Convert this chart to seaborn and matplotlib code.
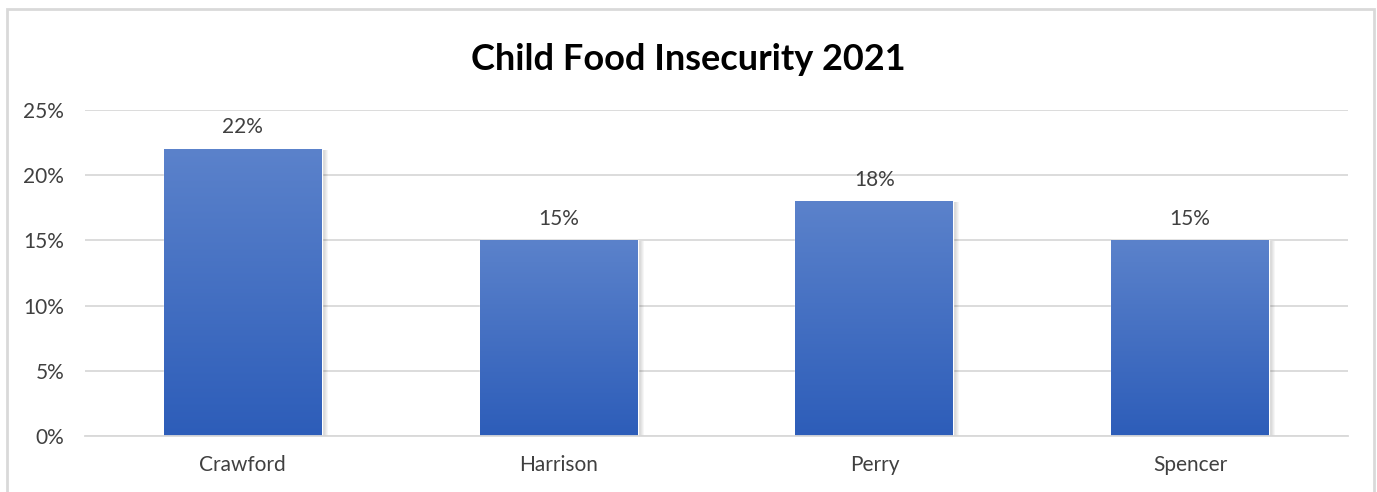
import numpy as np
import matplotlib
matplotlib.use("Agg")
import matplotlib.pyplot as plt
import seaborn as sns
from matplotlib.patches import Rectangle
from matplotlib.colors import LinearSegmentedColormap
from matplotlib.ticker import PercentFormatter

counties = ["Crawford", "Harrison", "Perry", "Spencer"]
insecurity = [22, 15, 18, 15]

sns.set_style("white")
plt.rcParams["font.family"] = ["Lato", "DejaVu Sans"]

fig = plt.figure(figsize=(13.77, 4.92), dpi=100)
ax = fig.add_axes([85 / 1377, 1 - 436 / 492, 1263 / 1377, 326 / 492])

sns.barplot(x=counties, y=insecurity, ax=ax, width=0.5, color="#4472C4")

# gradient fill for each bar
grad = LinearSegmentedColormap.from_list("bar", ["#2D5DB9", "#5B82CB"])
g = np.linspace(0, 1, 256).reshape(-1, 1)
px = 4 / 1263  # one pixel in data units along x
for p in ax.patches[:]:
    x0, w, h = p.get_x(), p.get_width(), p.get_height()
    # soft shadow on the right
    for i in range(6):
        ax.add_patch(Rectangle((x0 + w, 0), (6 - i) * px, h - 0.05, color="#000000",
                               alpha=0.035, lw=0, zorder=1))
    im = ax.imshow(g, cmap=grad, origin="lower", aspect="auto",
                   extent=[x0, x0 + w, 0, h], zorder=2)
    im.set_clip_path(p)
    p.set_zorder(2)
    ax.text(x0 + w / 2, h + 0.9, f"{h:.0f}%", ha="center", va="bottom",
            fontsize=15, color="#404040")

ax.set_xlim(-0.5, 3.5)
ax.set_ylim(0, 25)
ax.set_yticks(range(0, 26, 5))
ax.yaxis.set_major_formatter(PercentFormatter(decimals=0))
ax.grid(axis="y", color="#d9d9d9", lw=1.3)
ax.set_axisbelow(True)
for s in ["top", "right", "left"]:
    ax.spines[s].set_visible(False)
ax.spines["bottom"].set_color("#d9d9d9")
ax.spines["bottom"].set_linewidth(1.3)
ax.tick_params(axis="both", length=0, labelsize=15, colors="#404040")
ax.tick_params(axis="y", pad=15)
ax.tick_params(axis="x", pad=14)

fig.text(0.5, 1 - 59 / 492, "Child Food Insecurity 2021", ha="center", va="center",
         fontsize=26, fontweight="bold", color="#000000")

# chart border
fig.patches.append(Rectangle((7 / 1377, -0.05), 1367 / 1377, 1.05 - 9 / 492,
                             transform=fig.transFigure, fill=False,
                             edgecolor="#d9d9d9", lw=2))

fig.savefig("out.png", dpi=100, facecolor="white")
